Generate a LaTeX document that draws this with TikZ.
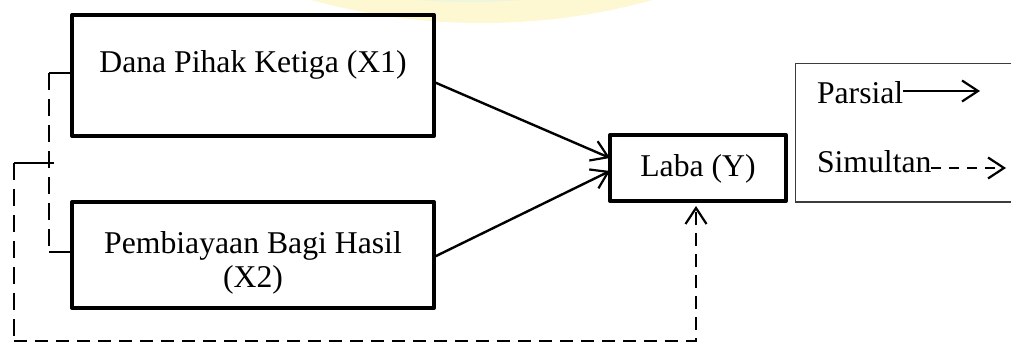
\documentclass[tikz,border=0pt]{standalone}
\usepackage{fontspec}
\setmainfont{Liberation Serif}
\usetikzlibrary{arrows.meta}
\definecolor{wmyellow}{RGB}{253,247,210}
\definecolor{wmgreen}{RGB}{236,246,222}
\definecolor{legline}{RGB}{60,60,60}
\tikzset{
  varbox/.style={draw=black, line width=4pt, rectangle, inner sep=0pt, outer sep=0pt, line join=round},
  legbox/.style={draw=legline, line width=1.2pt, rectangle, inner sep=0pt, outer sep=0pt},
  txt/.style={inner sep=0pt, outer sep=0pt, font=\fontsize{31.7}{34}\selectfont},
  barb/.style={-{Straight Barb[length=16pt,width=21pt,line width=2.2pt]}},
  partial/.style={barb, line width=2.4pt},
  joint/.style={barb, line width=2.2pt, dash pattern=on 13pt off 8pt},
  legdash/.style={barb, line width=2.2pt, dash pattern=on 10pt off 8pt},
  brace/.style={line width=1.6pt},
  bracedash/.style={line width=1.8pt, dash pattern=on 17pt off 9pt},
}
\begin{document}
\begin{tikzpicture}[x=1pt, y=-1pt]
\useasboundingbox (0,0) rectangle (1011,342);
\clip (0,0) rectangle (1011,342);

% faint logo watermark at the top edge
\fill[wmyellow] (482,-617) circle[radius=640];
\fill[wmgreen] (470,-630) circle[radius=632];

% variable boxes
\node[varbox, minimum width=362pt, minimum height=121pt] (x1) at (253,75.5) {};
\node[txt, anchor=base] (x1t) at (253,72.7) {Dana Pihak Ketiga (X1)};

\node[varbox, minimum width=362pt, minimum height=106pt] (x2) at (253,255) {};
\node[txt, anchor=base] (x2a) at (253,253) {Pembiayaan Bagi Hasil};
\node[txt, anchor=base] (x2b) at (253,287) {(X2)};

\node[varbox, minimum width=176pt, minimum height=66pt] (laba) at (698,168) {};
\node[txt, anchor=base] (labat) at (698,176) {Laba (Y)};

% partial effects
\draw[partial] ([yshift=-6.5pt]x1.east) -- ([yshift=10pt]laba.west);
\draw[partial] ([yshift=-2pt]x2.east) -- ([yshift=-3pt]laba.west);

% bracket joining X1 and X2
\coordinate (bt) at (49,73);
\coordinate (bb) at (49,252);
\coordinate (bm) at (54,163);
\coordinate (om) at (14,163);
\coordinate (ob) at (14,341);
\coordinate (lb) at (696,341);
\draw[brace] (bt) -- ([yshift=2.5pt]x1.west);
\draw[brace] (bb) -- ([yshift=3pt]x2.west);
\draw[brace] (om) -- (bm);
\draw[bracedash] (bt) -- (bb);

% simultaneous effect
\draw[bracedash] (om) -- (ob);
\draw[joint] (ob) -- (lb) -- ([xshift=-2pt,yshift=-5pt]laba.south);

% legend
\node[legbox, minimum width=230pt, minimum height=138.5pt, anchor=north west] (leg) at (795.5,63.5) {};
\node[txt, anchor=base west] (lp) at (817,103) {Parsial};
\node[txt, anchor=base west] (ls) at (817,172) {Simultan};
\coordinate (lpend) at (980,91);
\coordinate (lsend) at (1006,168);
\draw[partial, line width=2.2pt] ([yshift=12pt]lp.base east) -- (lpend);
\draw[legdash] ([yshift=4pt]ls.base east) -- (lsend);
\end{tikzpicture}
\end{document}
